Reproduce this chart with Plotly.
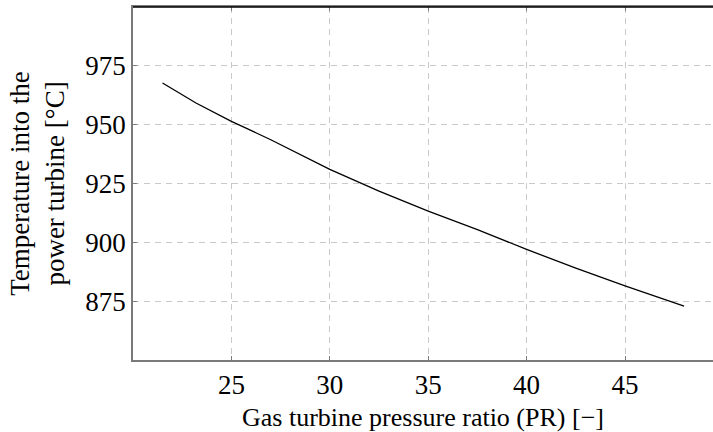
import plotly.graph_objects as go

# Gas turbine pressure ratio vs. power-turbine inlet temperature
pressure_ratio = [21.5, 23.2, 25.0, 27.0, 30.0, 32.5, 35.0, 37.5, 40.0, 42.5, 45.0, 48.0]
temperature_c = [967.7, 959.2, 951.4, 943.6, 931.0, 921.8, 913.3, 905.4, 897.0, 889.0, 881.5, 872.9]

x_ticks = [25, 30, 35, 40, 45]
y_ticks = [875, 900, 925, 950, 975]

serif = "Liberation Serif, DejaVu Serif, serif"
grid_col = "#c9c9c9"
axis_col = "#7a7a7a"

fig = go.Figure()
fig.add_trace(go.Scatter(
    x=pressure_ratio, y=temperature_c, mode="lines",
    line=dict(color="black", width=1.3), showlegend=False,
))

fig.update_layout(
    width=713, height=432,
    margin=dict(l=133, r=0, t=7, b=72),
    paper_bgcolor="white", plot_bgcolor="white",
    font=dict(family=serif, color="black"),
    xaxis=dict(
        range=[20, 49.47], tickvals=x_ticks,
        showgrid=True, gridcolor=grid_col, griddash="6px,5px", gridwidth=1,
        showline=True, linecolor=axis_col, linewidth=1.5, mirror="ticks",
        ticks="inside", ticklen=4, tickcolor=axis_col, tickwidth=1,
        tickfont=dict(size=27, family=serif), zeroline=False,
        title=dict(text="Gas turbine pressure ratio (PR) [\u2212]",
                   font=dict(size=26, family=serif), standoff=11),
    ),
    yaxis=dict(
        range=[850, 1000], tickvals=y_ticks,
        showgrid=True, gridcolor=grid_col, griddash="6px,5px", gridwidth=1,
        showline=True, linecolor=axis_col, linewidth=1.5, mirror=False,
        ticks="inside", ticklen=4, tickcolor=axis_col, tickwidth=1,
        tickfont=dict(size=27, family=serif), zeroline=False,
        title=dict(text="Temperature into the<br>power turbine [\u00b0C]",
                   font=dict(size=27, family=serif), standoff=13),
    ),
    shapes=[dict(type="line", xref="paper", yref="paper",
                 x0=0, x1=1, y0=1, y1=1,
                 line=dict(color="black", width=1.3))],
)

fig.write_html("out.html")
